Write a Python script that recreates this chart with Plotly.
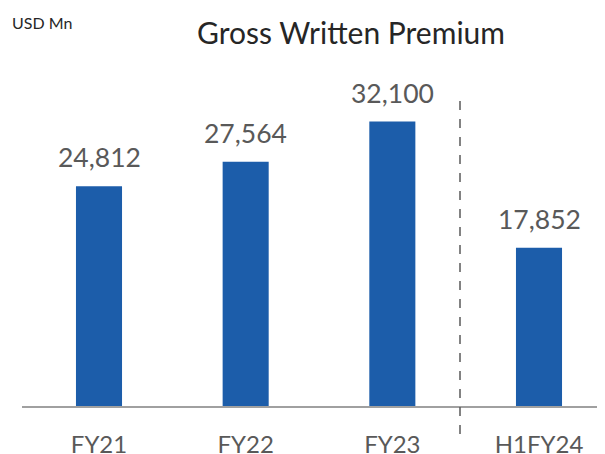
import plotly.graph_objects as go

categories = ["FY21", "FY22", "FY23", "H1FY24"]
values = [24812, 27564, 32100, 17852]
labels = ["24,812", "27,564", "32,100", "17,852"]

FONT = "Lato"
GRAY = "#595959"

# page body has an 8px margin; figure coordinates are screen - 8
W, H = 597, 446
L, T, B = 14, 52, 48
PW, PH = W - L, H - T - B

fig = go.Figure(go.Bar(
    x=categories, y=values,
    marker=dict(color="#1C5DAA", line=dict(width=0)),
    width=0.314,
))

for c, v, t in zip(categories, values, labels):
    fig.add_annotation(x=c, y=v, text=t, showarrow=False, yanchor="bottom",
                       yshift=11, font=dict(family=FONT, size=26.5, color=GRAY))

fig.update_layout(
    width=W, height=H,
    margin=dict(l=L, r=0, t=T, b=B, autoexpand=False),
    paper_bgcolor="white", plot_bgcolor="white",
    showlegend=False,
    xaxis=dict(range=[-0.525, 3.45], showgrid=False, showline=True,
               linecolor="#A0A0A0", linewidth=1.5, ticks="",
               tickfont=dict(family=FONT, size=24, color=GRAY),
               ticklabelstandoff=16, automargin=False),
    yaxis=dict(range=[0, 39050], visible=False, automargin=False),
)

fig.add_annotation(text="Gross Written Premium", xref="paper", yref="paper",
                   x=(343 - L) / PW, y=1 + (T - 24) / PH, xanchor="center", yanchor="middle",
                   showarrow=False, font=dict(family=FONT, size=30, color="#262626"))
fig.add_annotation(text="USD Mn", xref="paper", yref="paper",
                   x=(2 - L) / PW, y=1 + (T - 14) / PH, xanchor="left", yanchor="middle",
                   showarrow=False, font=dict(family=FONT, size=16, color="#262626"))

fig.add_shape(type="line", xref="paper", yref="paper",
              x0=(452 - L) / PW, x1=(452 - L) / PW,
              y0=-(426 - (H - B)) / PH, y1=1 - (92 - T) / PH,
              line=dict(color="#595959", width=1.5, dash="dash"))

fig.write_html("out.html")
